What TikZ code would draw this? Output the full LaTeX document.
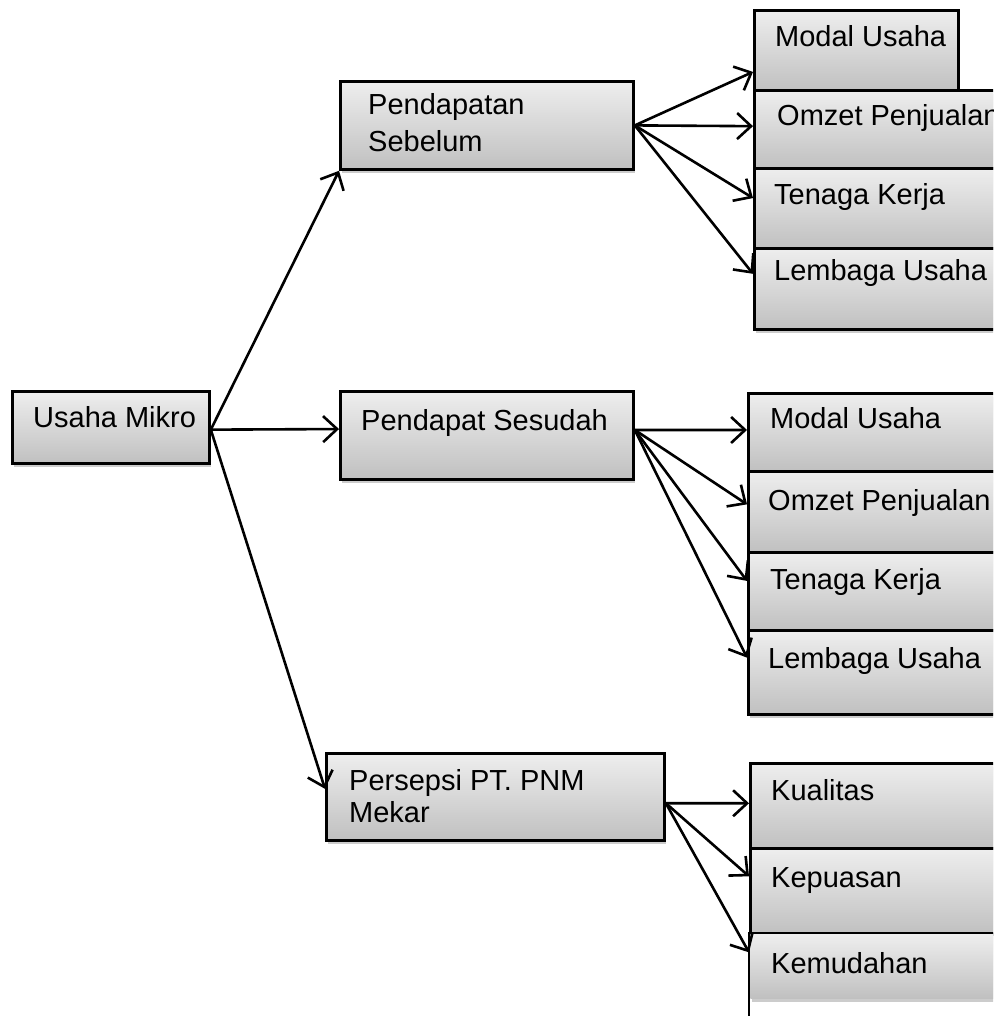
\documentclass[tikz,border=0pt]{standalone}
\usepackage{fontspec}
\setmainfont{Liberation Sans}
\usetikzlibrary{arrows.meta,shadows,calc}
\definecolor{boxtop}{HTML}{EEEEEE}
\definecolor{boxbot}{HTML}{C0C0C0}
\begin{document}
\begin{tikzpicture}[x=1pt,y=-1pt,
  box/.style={draw=black, line width=2.8pt, rectangle, inner sep=0pt, anchor=north west,
    top color=boxtop, bottom color=boxbot,
    drop shadow={shadow xshift=2pt, shadow yshift=-3.5pt, opacity=0.4}},
  lbl/.style={anchor=base west, inner sep=0pt, font=\fontsize{29}{34}\selectfont},
  arr/.style={line width=2.6pt, -{Straight Barb[length=14pt,width=26pt]}}]
\useasboundingbox (0,0) rectangle (993,1016);
\clip (0,0) rectangle (993,1016);
% main boxes
\node[box, minimum width=197pt, minimum height=72pt] (um) at (11,390) {};
\node[box, minimum width=293pt, minimum height=88pt] (ps) at (339,80) {};
\node[box, minimum width=293pt, minimum height=88pt] (pd) at (339,390) {};
\node[box, minimum width=338pt, minimum height=87pt] (pp) at (325,752) {};
% group 1
\node[box, minimum width=204pt, minimum height=80pt] (a1) at (753,9) {};
\node[box, minimum width=270pt, minimum height=78pt] (a2) at (753,89) {};
\node[box, minimum width=270pt, minimum height=80pt] (a3) at (753,167) {};
\node[box, minimum width=270pt, minimum height=81pt] (a4) at (753,247) {};
% group 2
\node[box, minimum width=276pt, minimum height=78pt] (b1) at (747,392) {};
\node[box, minimum width=276pt, minimum height=81pt] (b2) at (747,470) {};
\node[box, minimum width=276pt, minimum height=78pt] (b3) at (747,551) {};
\node[box, minimum width=276pt, minimum height=84pt] (b4) at (747,629) {};
% group 3
\node[box, minimum width=274pt, minimum height=85pt] (c1) at (749,762) {};
\node[box, minimum width=274pt, minimum height=86pt] (c2) at (749,847) {};
\node[box, draw=none, minimum width=274pt, minimum height=64pt] (c3) at (749,933) {};
\draw[line width=2.8pt] (c3.north east) -- (c3.north west) -- ($(c3.south west)+(0,30)$);
% labels
\node[lbl] (tum) at (33,427) {Usaha Mikro};
\node[lbl] (tps1) at (368,115) {Pendapatan};
\node[lbl] (tps2) at (368,152) {Sebelum};
\node[lbl] (tpd) at (361,430) {Pendapat Sesudah};
\node[lbl] (tpp1) at (349,790) {Persepsi PT. PNM};
\node[lbl] (tpp2) at (349,822) {Mekar};
\node[lbl] (ta1) at (775,47) {Modal Usaha};
\node[lbl] (ta2) at (777,126) {Omzet Penjualan};
\node[lbl] (ta3) at (774,205) {Tenaga Kerja};
\node[lbl] (ta4) at (774,280) {Lembaga Usaha};
\node[lbl] (tb1) at (770,428) {Modal Usaha};
\node[lbl] (tb2) at (768,510) {Omzet Penjualan};
\node[lbl] (tb3) at (770,589) {Tenaga Kerja};
\node[lbl] (tb4) at (768,668) {Lembaga Usaha};
\node[lbl] (tc1) at (771,800) {Kualitas};
\node[lbl] (tc2) at (771,887) {Kepuasan};
\node[lbl] (tc3) at (771,973) {Kemudahan};
% connectors from Usaha Mikro
\coordinate (umo) at ($(um.north east)!0.53!(um.south east)$);
\draw[arr] (umo) -- (ps.south west);
\draw[arr] (umo) -- ($(pd.north west)!0.43!(pd.south west)$);
\draw[arr] (umo) -- ($(pp.north west)!0.41!(pp.south west)$);
% from Pendapatan Sebelum
\draw[arr] (ps.east) -- ($(a1.north west)!0.76!(a1.south west)$);
\draw[arr] (ps.east) -- ($(a2.north west)!0.46!(a2.south west)$);
\draw[arr] (ps.east) -- ($(a3.north west)!0.375!(a3.south west)$);
\draw[arr] (ps.east) -- ($(a4.north west)!0.32!(a4.south west)$);
% from Pendapat Sesudah
\coordinate (pdo) at ($(pd.north east)!0.44!(pd.south east)$);
\draw[arr] (pdo) -- ($(b1.north west)!0.47!(b1.south west)$);
\draw[arr] (pdo) -- ($(b2.north west)!0.41!(b2.south west)$);
\draw[arr] (pdo) -- ($(b3.north west)!0.37!(b3.south west)$);
\draw[arr] (pdo) -- ($(b4.north west)!0.33!(b4.south west)$);
% from Persepsi
\coordinate (ppo) at ($(pp.north east)!0.57!(pp.south east)$);
\draw[arr] (ppo) -- ($(c1.north west)!0.47!(c1.south west)$);
\draw[arr] (ppo) -- ($(c2.north west)!0.33!(c2.south west)$);
\draw[arr] (ppo) -- ($(c3.north west)!0.29!(c3.south west)$);
\end{tikzpicture}
\end{document}
